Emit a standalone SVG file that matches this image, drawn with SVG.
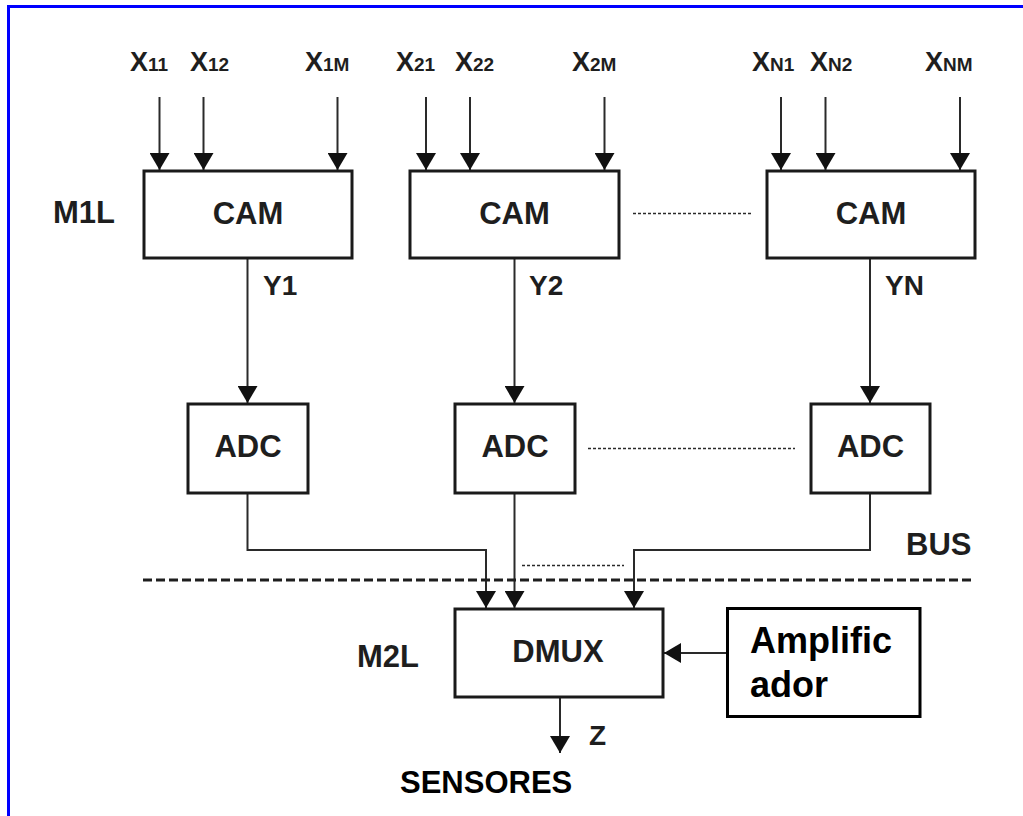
<svg xmlns="http://www.w3.org/2000/svg" width="1023" height="816" viewBox="0 0 1023 816">
<style>
.box{fill:#fff;stroke:#1a1a1a;stroke-width:3}
.lbl{font-family:"Liberation Sans",Arial,sans-serif;font-weight:bold;fill:#1e1e1e}
.big{font-size:31px}
.xl{font-size:27px}
.sub{font-size:19px}
.wire{fill:none;stroke:#2a2a2a;stroke-width:2}
.arr{marker-end:url(#ah)}
.dash{fill:none;stroke:#2a2a2a;stroke-width:1.5;stroke-dasharray:3 2}
</style>
<defs>
<marker id="ah" viewBox="0 0 17 20" refX="17" refY="10" markerWidth="17" markerHeight="20" markerUnits="userSpaceOnUse" orient="auto">
<path d="M0,0 L17,10 L0,20 z" fill="#111"/>
</marker>
</defs>
<rect x="0" y="0" width="1023" height="816" fill="#fff"/>
<rect x="8.5" y="6.5" width="1100" height="900" fill="none" stroke="#0000ff" stroke-width="3"/>

<g id="labels-x" class="lbl">
<text x="130" y="71" class="xl">X<tspan class="sub">11</tspan></text>
<text x="190" y="71" class="xl">X<tspan class="sub">12</tspan></text>
<text x="305" y="71" class="xl">X<tspan class="sub">1M</tspan></text>
<text x="396" y="71" class="xl">X<tspan class="sub">21</tspan></text>
<text x="455" y="71" class="xl">X<tspan class="sub">22</tspan></text>
<text x="572" y="71" class="xl">X<tspan class="sub">2M</tspan></text>
<text x="752" y="71" class="xl">X<tspan class="sub">N1</tspan></text>
<text x="810" y="71" class="xl">X<tspan class="sub">N2</tspan></text>
<text x="925" y="71" class="xl">X<tspan class="sub">NM</tspan></text>
</g>

<g id="connectors">
<line class="wire arr" x1="159.5" y1="97" x2="159.5" y2="170"/>
<line class="wire arr" x1="203.5" y1="97" x2="203.5" y2="170"/>
<line class="wire arr" x1="337.5" y1="97" x2="337.5" y2="170"/>
<line class="wire arr" x1="426" y1="97" x2="426" y2="170"/>
<line class="wire arr" x1="470" y1="97" x2="470" y2="170"/>
<line class="wire arr" x1="604.5" y1="97" x2="604.5" y2="170"/>
<line class="wire arr" x1="781" y1="97" x2="781" y2="170"/>
<line class="wire arr" x1="825.5" y1="97" x2="825.5" y2="170"/>
<line class="wire arr" x1="960" y1="97" x2="960" y2="170"/>
<line class="wire arr" x1="247.5" y1="258" x2="247.5" y2="403"/>
<line class="wire arr" x1="514.5" y1="258" x2="514.5" y2="403"/>
<line class="wire arr" x1="870" y1="258" x2="870" y2="403"/>
<polyline class="wire arr" points="247.5,493 247.5,550 486,550 486,608"/>
<line class="wire arr" x1="514.5" y1="493" x2="514.5" y2="608"/>
<polyline class="wire arr" points="870,493 870,550 634,550 634,608"/>
<line class="wire arr" x1="727" y1="653" x2="664" y2="653"/>
<line class="wire arr" x1="560" y1="698" x2="560" y2="753"/>
<line class="dash" x1="633" y1="213.5" x2="751" y2="213.5"/>
<line class="dash" x1="588" y1="448.5" x2="795" y2="448.5"/>
<line class="dash" x1="522" y1="565.5" x2="624" y2="565.5"/>
<line x1="143" y1="580" x2="971" y2="580" stroke="#1e1e1e" stroke-width="3" stroke-dasharray="9 4"/>
</g>

<g id="cam1"><rect class="box" x="144" y="171" width="208" height="87"/><text class="lbl big" x="248" y="224" text-anchor="middle">CAM</text></g>
<g id="cam2"><rect class="box" x="410" y="171" width="209" height="87"/><text class="lbl big" x="514.5" y="224" text-anchor="middle">CAM</text></g>
<g id="cam3"><rect class="box" x="767" y="171" width="208" height="87"/><text class="lbl big" x="871" y="224" text-anchor="middle">CAM</text></g>

<g id="adc1"><rect class="box" x="188" y="404" width="120" height="89"/><text class="lbl big" x="248" y="457" text-anchor="middle">ADC</text></g>
<g id="adc2"><rect class="box" x="455" y="404" width="120" height="89"/><text class="lbl big" x="515" y="457" text-anchor="middle">ADC</text></g>
<g id="adc3"><rect class="box" x="811" y="404" width="119" height="89"/><text class="lbl big" x="870.5" y="457" text-anchor="middle">ADC</text></g>

<g id="dmux"><rect class="box" x="455" y="609" width="208" height="88"/><text class="lbl big" x="558" y="662" text-anchor="middle">DMUX</text></g>

<g id="amplificador"><rect x="727.5" y="608.5" width="192.5" height="108" fill="#fff" stroke="#000" stroke-width="3"/>
<text x="750" y="653" font-family="Liberation Sans,Arial,sans-serif" font-weight="bold" font-size="36" fill="#000">Amplific</text>
<text x="750" y="697" font-family="Liberation Sans,Arial,sans-serif" font-weight="bold" font-size="36" fill="#000">ador</text></g>

<g id="texts" class="lbl">
<text class="big" x="53" y="223">M1L</text>
<text class="big" x="357" y="667">M2L</text>
<text class="big" x="906" y="555">BUS</text>
<text x="263" y="295" font-size="28">Y1</text>
<text x="529" y="295" font-size="28">Y2</text>
<text x="885" y="295" font-size="28">YN</text>
<text x="589" y="745" font-size="28">Z</text>
<text x="400" y="793" font-size="31" style="fill:#000">SENSORES</text>
</g>
</svg>
